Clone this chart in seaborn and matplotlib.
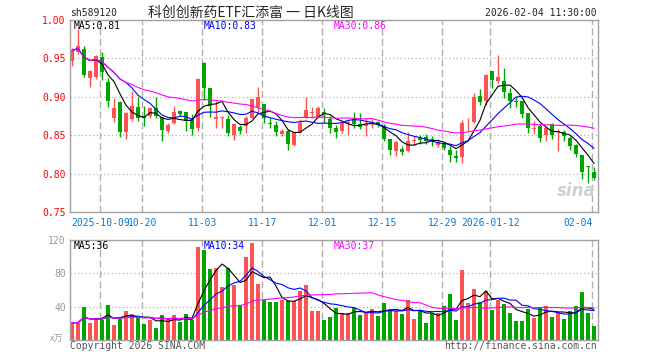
import numpy as np
import pandas as pd
import matplotlib
matplotlib.use("Agg")
import matplotlib.pyplot as plt
import seaborn as sns

code = "sh589120"
title = "科创创新药ETF汇添富 一 日K线图"
stamp = "2026-02-04 11:30:00"

# daily candles, 2025-09-24 .. 2026-02-04
opens = [0.947, 0.958, 0.962, 0.925, 0.926, 0.952, 0.919, 0.872, 0.8935, 0.854,
         0.8705, 0.887, 0.8745, 0.8745, 0.885, 0.8735, 0.855, 0.866, 0.881, 0.880,
         0.8705, 0.860, 0.944, 0.911, 0.8705, 0.872, 0.8705, 0.850, 0.8605, 0.862,
         0.8727, 0.8867, 0.891, 0.8665, 0.863, 0.852, 0.855, 0.8369, 0.8544, 0.8727,
         0.8784, 0.8736, 0.8806, 0.8705, 0.8596, 0.856, 0.866, 0.8705, 0.865, 0.862,
         0.865, 0.8666, 0.8625, 0.8456, 0.830, 0.832, 0.829, 0.8425, 0.846, 0.848,
         0.8445, 0.8375, 0.840, 0.831, 0.8235, 0.821, 0.868, 0.867, 0.9015, 0.895,
         0.933, 0.920, 0.921, 0.905, 0.895, 0.894, 0.8785, 0.858, 0.8625, 0.850,
         0.864, 0.854, 0.8548, 0.847, 0.8375, 0.8245, 0.8088, 0.8025]
closes = [0.960, 0.966, 0.929, 0.934, 0.953, 0.932, 0.895, 0.885, 0.854, 0.879,
          0.888, 0.872, 0.873, 0.885, 0.875, 0.857, 0.863, 0.880, 0.877, 0.869,
          0.8575, 0.923, 0.912, 0.888, 0.8735, 0.8735, 0.853, 0.864, 0.856, 0.8727,
          0.8967, 0.900, 0.8727, 0.865, 0.8543, 0.855, 0.8386, 0.8544, 0.866, 0.8823,
          0.8806, 0.885, 0.877, 0.8596, 0.8544, 0.866, 0.8675, 0.865, 0.8605, 0.865,
          0.8675, 0.863, 0.8445, 0.831, 0.841, 0.8277, 0.842, 0.844, 0.844, 0.843,
          0.843, 0.8415, 0.8335, 0.8245, 0.820, 0.866, 0.869, 0.8995, 0.893, 0.928,
          0.922, 0.926, 0.906, 0.894, 0.893, 0.877, 0.8595, 0.8595, 0.8465, 0.860,
          0.8505, 0.856, 0.8484, 0.8365, 0.8255, 0.8015, 0.8085, 0.7945]
highs = [0.963, 0.988, 0.966, 0.935, 0.955, 0.958, 0.925, 0.898, 0.8945, 0.880,
         0.9075, 0.900, 0.888, 0.8865, 0.900, 0.874, 0.8655, 0.888, 0.883, 0.880,
         0.877, 0.924, 0.945, 0.912, 0.895, 0.875, 0.876, 0.865, 0.863, 0.875,
         0.8967, 0.913, 0.891, 0.8727, 0.8683, 0.8575, 0.8575, 0.855, 0.8705, 0.900,
         0.8867, 0.888, 0.885, 0.875, 0.863, 0.8683, 0.8705, 0.8806, 0.879, 0.8727,
         0.8705, 0.868, 0.864, 0.8456, 0.843, 0.836, 0.854, 0.8485, 0.850, 0.851,
         0.849, 0.8446, 0.8416, 0.836, 0.8307, 0.870, 0.873, 0.905, 0.9105, 0.930,
         0.934, 0.954, 0.937, 0.911, 0.900, 0.894, 0.879, 0.869, 0.864, 0.8615,
         0.866, 0.858, 0.857, 0.849, 0.839, 0.8245, 0.8095, 0.809]
lows = [0.940, 0.956, 0.926, 0.913, 0.923, 0.922, 0.887, 0.8675, 0.848, 0.8455,
        0.868, 0.868, 0.862, 0.873, 0.872, 0.842, 0.853, 0.864, 0.8745, 0.855,
        0.850, 0.855, 0.896, 0.874, 0.8595, 0.859, 0.8487, 0.8443, 0.8517, 0.853,
        0.8718, 0.8806, 0.866, 0.859, 0.8487, 0.8487, 0.831, 0.8356, 0.853, 0.8727,
        0.8727, 0.8727, 0.866, 0.853, 0.8465, 0.853, 0.850, 0.8596, 0.8587, 0.8487,
        0.8596, 0.861, 0.842, 0.824, 0.8225, 0.824, 0.828, 0.837, 0.839, 0.838,
        0.836, 0.834, 0.8307, 0.8155, 0.8145, 0.814, 0.856, 0.866, 0.889, 0.889,
        0.911, 0.918, 0.898, 0.885, 0.887, 0.873, 0.853, 0.852, 0.8405, 0.843,
        0.845, 0.829, 0.842, 0.831, 0.8215, 0.793, 0.788, 0.792]
# volume, 万手
volumes = [20.8, 20.8, 39.2, 20.8, 24.8, 24.0, 42.0, 18.0, 25.6, 34.8,
           30.0, 28.0, 19.2, 24.0, 14.0, 30.0, 24.0, 30.0, 21.6, 30.8,
           24.0, 111.6, 108.0, 85.4, 87.0, 64.0, 86.0, 66.2, 42.2, 99.8,
           116.2, 67.8, 48.2, 45.8, 45.8, 47.8, 46.6, 46.6, 59.2, 66.2,
           35.2, 35.2, 24.2, 27.8, 38.2, 32.2, 32.2, 38.2, 30.2, 33.8,
           37.4, 29.2, 44.4, 36.6, 35.2, 31.6, 48.2, 25.2, 36.4, 20.6,
           32.2, 32.4, 40.8, 55.2, 24.4, 84.0, 44.6, 61.2, 45.8, 59.0,
           36.2, 48.2, 43.2, 32.8, 23.2, 23.2, 37.2, 26.8, 39.6, 41.2,
           28.0, 33.2, 25.6, 35.2, 40.8, 58.0, 32.8, 16.8]

# candle index of each date label
date_idx = [5, 12, 22, 32, 42, 52, 62, 70, 87]
date_labels = ["2025-10-09", "10-20", "11-03", "11-17", "12-01", "12-15",
               "12-29", "2026-01-12", "02-04"]
price_ticks = [0.75, 0.80, 0.85, 0.90, 0.95, 1.00]
vol_ticks = [40, 80, 120]
ma_price_labels = ["MA5:0.81", "MA10:0.83", "MA30:0.86"]
ma_vol_labels = ["MA5:36", "MA10:34", "MA30:37"]

df = pd.DataFrame({"open": opens, "close": closes, "high": highs,
                   "low": lows, "vol": volumes})
df["i"] = np.arange(len(df))
for n in (5, 10, 30):
    df[f"ma{n}"] = df["close"].rolling(n, min_periods=1).mean()
    df[f"vma{n}"] = df["vol"].rolling(n, min_periods=1).mean()

RED, GREEN = "#ff5252", "#00a600"
df["color"] = np.where(df["close"] >= df["open"], RED, GREEN)
ma_colors = ["#000000", "#0000ff", "#ff00ff"]

sns.set_style("white")
plt.rcParams["font.family"] = ["DejaVu Sans Mono", "Noto Sans CJK SC"]
plt.rcParams["axes.edgecolor"] = "#a0a0a0"
plt.rcParams["axes.linewidth"] = 1.0

fig = plt.figure(figsize=(6.6, 3.6), dpi=100)
ax = fig.add_axes([70 / 660, 1 - 212 / 360, 528 / 660, 192 / 360])
axv = fig.add_axes([70 / 660, 1 - 340 / 360, 528 / 660, 100 / 360])

grid_x = [k - 0.28 for k in date_idx]
xlim = (-1 / 3, len(df) - 1 + 4 / 6)

# candles
ax.vlines(df["i"], df["low"], df["high"], colors=df["color"], lw=1)
body = np.maximum((df["close"] - df["open"]).abs(), 0.0008)
ax.bar(df["i"], body, bottom=np.minimum(df["open"], df["close"]),
       width=0.8, color=df["color"], linewidth=0)
for n, c in zip((5, 10, 30), ma_colors):
    sns.lineplot(data=df, x="i", y=f"ma{n}", ax=ax, color=c, lw=0.8)

# volume bars
axv.bar(df["i"], df["vol"], width=0.8, color=df["color"], linewidth=0)
for n, c in zip((5, 10, 30), ma_colors):
    sns.lineplot(data=df, x="i", y=f"vma{n}", ax=axv, color=c, lw=0.8)

for a in (ax, axv):
    a.set_xlim(*xlim)
    a.set_xlabel("")
    a.set_ylabel("")
    for x in grid_x:
        a.axvline(x, color="#b0b0b0", lw=1, ls=(0, (5, 2.5)), zorder=0)
    a.tick_params(length=0)

ax.set_ylim(0.75, 1.00)
ax.set_yticks(price_ticks)
ax.set_yticklabels([f"{t:.2f}" for t in price_ticks], color="#ff0000", fontsize=7)
for t in price_ticks[1:-1]:
    ax.axhline(t, color="#b0b0b0", lw=0.9, ls=(0, (1, 2)), zorder=0)
ax.set_xticks(grid_x)
ax.set_xticklabels(date_labels, color="#0a78d2", fontsize=7)
ax.tick_params(axis="x", pad=4)
ax.tick_params(axis="y", pad=3)
ax.get_xticklabels()[-1].set_horizontalalignment("right")

axv.set_ylim(0, 120)
axv.set_yticks(vol_ticks)
axv.set_yticklabels([str(t) for t in vol_ticks], color="#999999", fontsize=7)
axv.tick_params(axis="y", pad=3)
for t in vol_ticks[:-1]:
    axv.axhline(t, color="#b0b0b0", lw=0.9, ls=(0, (1, 2)), zorder=0)
axv.set_xticks([])

# MA legends
for lab, c, x in zip(ma_price_labels, ma_colors, (74, 204, 334)):
    fig.text(x / 660, 1 - 26 / 360, lab, color=c, fontsize=7, va="center")
for lab, c, x in zip(ma_vol_labels, ma_colors, (74, 204, 334)):
    fig.text(x / 660, 1 - 246 / 360, lab, color=c, fontsize=7, va="center")

# header / footer
fig.text(70 / 660, 1 - 13 / 360, code, fontsize=7, va="center")
fig.text(251 / 660, 1 - 13 / 360, title, fontsize=10, va="center", ha="center",
         family=["Noto Sans CJK SC", "DejaVu Sans"])
fig.text(597 / 660, 1 - 13 / 360, stamp, fontsize=7, va="center", ha="right")
fig.text(63 / 660, 1 - 339 / 360, "x万", fontsize=6.5, va="center", ha="right",
         color="#999999", family=["Noto Sans CJK SC", "DejaVu Sans"])
fig.text(70 / 660, 1 - 346 / 360, "Copyright 2026 SINA.COM", fontsize=7,
         va="center", color="#555555")
fig.text(597 / 660, 1 - 346 / 360, "http://finance.sina.com.cn", fontsize=7,
         va="center", ha="right", color="#555555")
ax.text(0.995, 0.06, "sina", transform=ax.transAxes, ha="right", va="bottom",
        fontsize=12, style="italic", weight="bold", color="#d0d0d0",
        family="DejaVu Sans")

fig.savefig("out.png", dpi=100)
